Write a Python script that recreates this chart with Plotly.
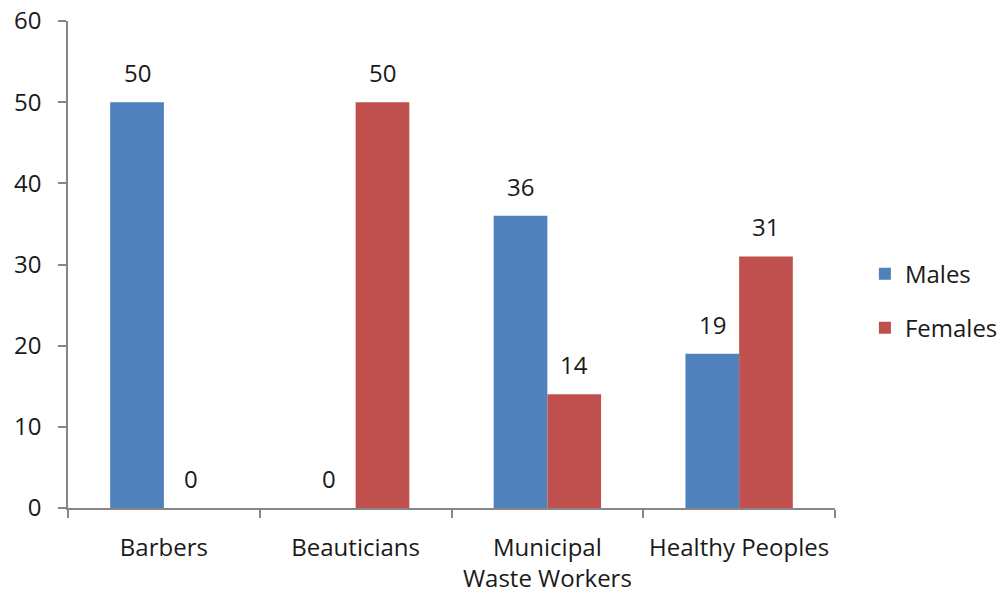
import plotly.graph_objects as go

categories = ["Barbers", "Beauticians", "Municipal<br>Waste Workers", "Healthy Peoples"]
males = [50, 0, 36, 19]
females = [0, 50, 14, 31]

FONT = "Open Sans"
FS = 24
TXT = "#1a1a1a"
AX = "#868686"

fig = go.Figure()
fig.add_trace(go.Bar(x=categories, y=males, name="Males", marker_color="#4F81BD",
                     marker_line_width=0, legendgroup="m"))
fig.add_trace(go.Bar(x=categories, y=females, name="Females", marker_color="#C0504D",
                     marker_line_width=0, legendgroup="f"))

BW = 191.75 * (1 - 0.44) / 2
for vals, sh in ((males, -BW / 2), (females, BW / 2)):
    for c, v in zip(categories, vals):
        fig.add_annotation(x=c, y=v, text=str(v), showarrow=False, xshift=sh,
                           yanchor="bottom", yshift=11,
                           font=dict(size=FS, family=FONT, color=TXT))

fig.update_layout(
    width=1008, height=596,
    margin=dict(l=68, r=173, t=21, b=88, autoexpand=False),
    paper_bgcolor="white", plot_bgcolor="white",
    barmode="group", bargap=0.44, bargroupgap=0,
    font=dict(family=FONT, size=FS, color=TXT),
    showlegend=True,
    legend=dict(x=1.039, y=0.425, xanchor="left", yanchor="middle",
                font=dict(size=FS, family=FONT, color=TXT),
                traceorder="grouped", tracegroupgap=20, itemwidth=30),
)
fig.update_xaxes(showline=True, linecolor=AX, linewidth=1.5, ticks="outside",
                 tickson="boundaries", ticklen=8, tickcolor=AX, tickwidth=1.5,
                 showgrid=False, automargin=False, ticklabelstandoff=17,
                 tickfont=dict(size=FS, family=FONT, color=TXT))
fig.update_yaxes(range=[0, 60], dtick=10, showline=True, linecolor=AX, linewidth=1.5,
                 ticks="outside", ticklen=8, tickcolor=AX, tickwidth=1.5,
                 showgrid=False, zeroline=False, automargin=False, ticklabelstandoff=12,
                 tickfont=dict(size=FS, family=FONT, color=TXT))

fig.write_html("out.html")
